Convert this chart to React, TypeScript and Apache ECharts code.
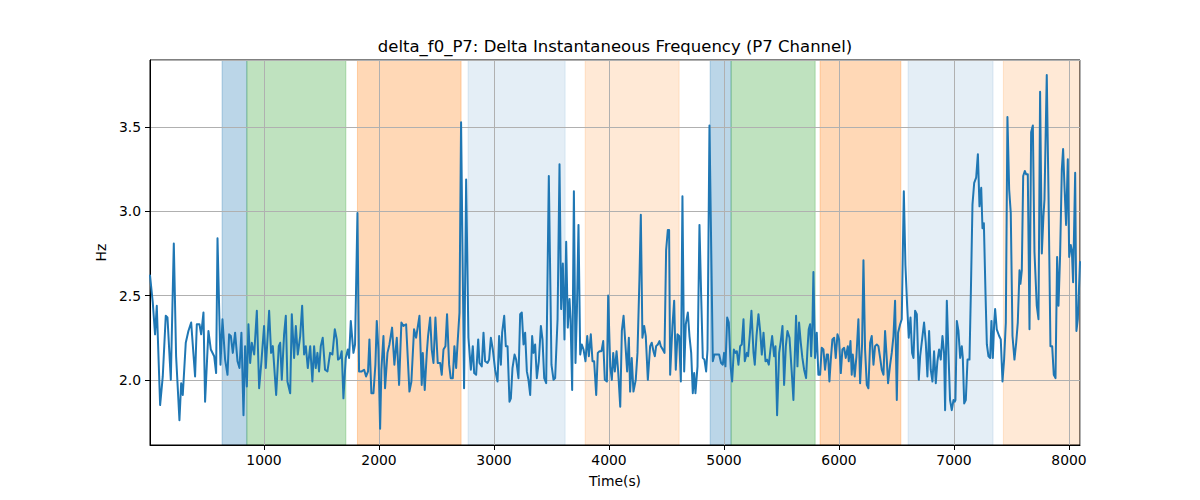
import React, { useEffect, useRef } from "react";
import * as echarts from "echarts";

// ---- data ----
const timeS = [
  9, 33, 53, 68, 97, 120, 146, 161, 190, 216, 236, 265, 280, 294, 320, 343, 367, 401, 416, 439,
  454, 474, 488, 517, 538, 567, 584, 596, 622, 639, 662, 683, 697, 712, 729, 749, 770, 787, 804, 822,
  836, 851, 865, 880, 894, 915, 938, 958, 978, 1001, 1016, 1045, 1062, 1077, 1106, 1129, 1141, 1155, 1175, 1190,
  1204, 1228, 1242, 1262, 1277, 1294, 1315, 1332, 1349, 1364, 1381, 1402,
  1421, 1436, 1450, 1465, 1479, 1494, 1511, 1531, 1552, 1575, 1595, 1616, 1633, 1644, 1662, 1676, 1691, 1711,
  1729, 1740, 1755, 1778, 1792, 1813, 1827, 1850, 1871, 1888, 1905, 1917, 1934, 1952, 1969, 1981, 1995, 2010,
  2021, 2039, 2053, 2074, 2091, 2114, 2134, 2155, 2175, 2195, 2213, 2236, 2265, 2282, 2305, 2323, 2334, 2352,
  2372, 2381, 2398, 2416, 2427, 2445, 2459, 2474, 2491, 2511, 2532, 2546, 2561, 2578, 2592, 2610, 2624, 2642,
  2656, 2671, 2682, 2700, 2714, 2740, 2758,
  2778, 2799, 2816, 2828, 2845, 2863, 2874, 2894, 2909, 2923, 2944, 2958, 2973, 2990, 3010, 3031, 3045, 3060,
  3071, 3089, 3103, 3118, 3135, 3147, 3161, 3179, 3193, 3213, 3228, 3242, 3257, 3271, 3286, 3300, 3315, 3332,
  3344, 3358, 3373, 3390, 3408, 3422, 3437, 3454, 3477, 3500, 3518, 3532, 3553, 3570, 3584, 3599, 3613, 3628,
  3642, 3657, 3666, 3680, 3695, 3709, 3721, 3735, 3750, 3764, 3779, 3796, 3811, 3825, 3842, 3857, 3871, 3889,
  3903, 3918, 3935, 3950, 3964, 3982, 3993, 4011, 4025, 4037, 4051, 4066, 4080, 4098, 4112, 4127, 4144, 4158, 4173,
  4184, 4198, 4213, 4233, 4248, 4265, 4277, 4291, 4306, 4320, 4338, 4358, 4372, 4387, 4399, 4410, 4425, 4439,
  4451, 4468, 4483, 4497, 4512, 4523, 4532, 4552, 4567, 4581, 4596, 4610, 4625, 4639, 4654, 4668, 4686, 4700,
  4715, 4729, 4741, 4752, 4770, 4787, 4801, 4816, 4830, 4845, 4857, 4874, 4903, 4917, 4938, 4958, 4975, 4990,
  5001, 5013, 5028, 5042, 5059, 5071, 5086, 5100, 5112, 5126, 5141, 5155, 5170, 5181, 5199, 5210, 5225, 5239,
  5257, 5268, 5283, 5300, 5315, 5329, 5344, 5361, 5375, 5390, 5404, 5419, 5436, 5448, 5462, 5480, 5494, 5509,
  5523, 5538, 5552, 5570,
  5589, 5604, 5627, 5639, 5653, 5668, 5682, 5697, 5714, 5726, 5737, 5749, 5758, 5769, 5778, 5792, 5807, 5821,
  5836, 5850, 5865, 5879, 5894, 5905, 5917, 5929, 5943, 5958, 5972, 5987, 6001, 6016, 6030, 6045, 6059, 6077,
  6085, 6100, 6111, 6120, 6137, 6152, 6169, 6184, 6201, 6213, 6227, 6242, 6256, 6271, 6285, 6300, 6314, 6329,
  6343, 6358, 6372, 6387, 6401, 6416, 6427, 6445, 6459, 6474, 6488, 6503, 6514, 6532, 6546, 6564, 6578, 6593,
  6607, 6622, 6636, 6648, 6662, 6677, 6694, 6706, 6723, 6740, 6755, 6769, 6784, 6798, 6813, 6827, 6842, 6856,
  6871, 6885, 6900, 6914, 6923, 6938, 6952, 6966,
  6981, 6996, 7007, 7013, 7025, 7039, 7054, 7068, 7077, 7089, 7103, 7118, 7135, 7147, 7161, 7176, 7193, 7208,
  7222, 7237, 7248, 7260, 7274, 7286, 7300, 7315, 7326, 7338, 7350,
  7358, 7372, 7393, 7407, 7422, 7436, 7451, 7465, 7480, 7494, 7509, 7526, 7541, 7555, 7570, 7578, 7590, 7602,
  7616, 7628, 7642, 7657, 7671, 7686, 7700, 7720, 7735, 7749, 7764, 7778, 7787, 7807, 7822, 7839, 7854, 7868,
  7883, 7897, 7909, 7923, 7938, 7949, 7961, 7975, 7990, 8002, 8016, 8025, 8036, 8054, 8065, 8077, 8096,
];

const hz = [
  2.62, 2.46, 2.27, 2.44, 1.85, 2.02, 2.38, 2.37, 2.0, 2.81, 2.14, 1.76, 1.98, 1.91, 2.22, 2.29, 2.34, 2.02, 2.33, 2.33,
  2.27, 2.4, 1.87, 2.29, 2.18, 2.14, 2.04, 2.84, 2.09, 2.36, 2.12, 2.03, 2.27, 2.26, 2.16, 2.28, 2.11, 2.07, 2.28, 1.79,
  2.2, 1.96, 2.33, 2.1, 2.22, 2.15, 2.41, 1.95, 2.11, 2.32, 2.07, 2.41, 2.16, 2.2, 1.91, 2.2, 2.22, 2.0, 2.27, 2.38,
  1.99, 1.92, 2.39, 2.13, 2.32, 2.15, 2.26, 2.44, 2.15, 2.2, 2.07, 2.2,
  1.99, 2.2, 2.07, 2.16, 2.05, 2.2, 2.25, 2.06, 2.05, 2.16, 2.15, 2.3, 2.24, 2.12, 2.13, 2.17, 1.89, 2.13,
  2.18, 2.13, 2.35, 2.16, 2.21, 2.99, 2.05, 2.05, 2.06, 2.02, 2.05, 2.24, 1.92, 1.92, 2.09, 2.35, 2.18, 1.71,
  2.06, 2.26, 1.95, 2.16, 2.21, 2.31, 2.09, 2.25, 1.97, 2.34, 2.32, 2.33, 1.93, 1.99, 2.3, 2.25, 2.3, 2.38,
  1.97, 2.16, 1.94, 2.16, 2.26, 2.37, 2.18, 2.1, 2.37, 2.1, 2.1, 2.03, 2.18, 2.2, 2.39, 2.09, 2.01, 2.01,
  2.2, 2.07, 2.2, 2.4, 3.53, 1.95, 3.19,
  2.25, 2.06, 2.2, 2.04, 2.03, 2.24, 2.1, 2.08, 2.28, 2.11, 2.1, 2.12, 2.25, 2.18, 2.06, 1.99, 2.26, 2.09,
  2.28, 2.38, 2.2, 2.2, 1.87, 1.89, 2.07, 2.15, 2.12, 2.01, 2.39, 2.4, 2.21, 2.28, 2.05, 2.0, 1.91, 2.26,
  2.16, 2.21, 2.01, 2.11, 2.32, 2.24, 2.01, 1.98, 3.21, 2.09, 2.0, 2.01, 2.36, 3.28, 2.42, 2.69, 2.24, 2.82,
  2.31, 2.48, 2.36, 1.94, 3.12, 2.1, 2.4, 2.92, 2.15, 2.21, 2.18, 2.11, 2.26, 2.14, 2.27, 2.11, 2.11, 1.91,
  2.16, 2.17, 2.17, 2.23, 2.0, 1.99, 2.5, 2.08, 2.0, 2.16, 2.05, 2.17, 2.05, 1.84, 2.29, 2.38, 2.2, 2.05, 2.25,
  1.93, 2.13, 1.93, 2.0, 2.16, 2.6, 2.98, 2.25, 2.32, 2.26, 2.0, 2.2, 2.22, 2.17, 2.14, 2.2, 2.21, 2.23,
  2.2, 2.18, 2.16, 2.77, 2.89, 2.89, 2.03, 2.32, 2.47, 2.06, 2.27, 2.26, 1.99, 3.09, 2.05, 2.33, 2.4, 2.26,
  2.16, 1.92, 2.04, 1.92, 2.08, 2.92, 2.52, 2.13, 2.12, 2.05, 2.18, 3.51, 2.11, 2.15, 2.15, 2.15, 2.1, 2.09,
  2.16, 2.08, 2.37, 2.34, 2.07, 1.99, 2.18, 2.16, 2.17, 2.09, 2.2, 2.21, 2.36, 2.11, 2.16, 2.14, 2.27, 2.41,
  2.16, 2.09, 2.26, 2.39, 2.29, 2.15, 2.28, 2.11, 2.12, 2.09, 2.18, 2.26, 2.14, 2.2, 1.79, 2.16, 2.23, 2.32,
  1.97, 2.2, 2.29, 2.25,
  2.05, 1.88, 2.38, 2.08, 2.34, 2.22, 2.13, 2.06, 2.01, 2.18, 2.3, 2.33, 2.14, 2.32, 2.64, 2.13, 2.28, 2.03,
  2.03, 2.19, 2.18, 2.06, 2.15, 2.15, 1.99, 2.12, 2.24, 2.25, 2.13, 2.27, 2.24, 2.04, 2.18, 2.19, 2.13, 2.2,
  2.11, 2.23, 2.03, 2.15, 2.02, 2.14, 2.36, 1.98, 2.21, 2.71, 2.18, 1.97, 1.95, 2.22, 2.26, 2.09, 2.2, 2.21,
  2.2, 2.13, 2.06, 2.03, 2.29, 2.12, 1.98, 2.09, 2.16, 2.26, 2.47, 1.88, 2.28, 2.33, 2.36, 3.12, 2.68, 2.44,
  2.25, 2.37, 2.16, 2.13, 2.41, 2.39, 2.0, 2.14, 2.24, 2.34, 2.22, 2.02, 2.29, 2.06, 1.99, 2.17, 1.98, 2.11,
  2.18, 2.12, 2.26, 2.16, 1.82, 2.47, 2.16, 1.88,
  1.82, 1.88, 1.87, 1.88, 2.35, 2.29, 2.13, 2.2, 2.13, 1.86, 1.88, 2.12, 2.12, 2.52, 3.04, 3.17, 3.2, 3.34,
  3.03, 3.14, 2.9, 2.93, 2.52, 2.21, 2.14, 2.13, 2.35, 2.13, 2.34,
  2.42, 2.3, 2.26, 2.24, 1.99, 2.12, 2.34, 3.56, 3.13, 2.99, 2.26, 2.12, 2.22, 2.34, 2.65, 2.57, 2.65, 3.21,
  3.24, 3.22, 3.22, 2.3, 3.47, 3.51, 2.76, 2.44, 2.36, 3.71, 2.75, 2.97, 3.07, 3.81, 3.11, 2.2, 2.2, 2.03,
  2.01, 2.73, 2.44, 2.74, 3.25, 3.37, 3.15, 2.92, 3.31, 2.73, 2.8, 2.77, 2.58, 3.23, 2.29, 2.36, 2.7,
];

// shaded intervals (axvspan)
const spanStarts = [636, 851, 1813, 2775, 3793, 4880, 5062, 5836, 6601, 7430];
const spanEnds = [851, 1712, 2714, 3619, 4610, 5062, 5793, 6538, 7340, 8096];

const X_MIN = 9;
const X_MAX = 8096;
const Y_MIN = 1.613;
const Y_MAX = 3.899;

// styles
const spanColors = [
  "rgba(31,119,180,0.3)",
  "rgba(44,160,44,0.3)",
  "rgba(255,127,14,0.3)",
  "rgba(31,119,180,0.12)",
  "rgba(255,127,14,0.17)",
  "rgba(31,119,180,0.3)",
  "rgba(44,160,44,0.3)",
  "rgba(255,127,14,0.3)",
  "rgba(31,119,180,0.12)",
  "rgba(255,127,14,0.17)",
];
const FONT = "DejaVu Sans";

export default function App() {
  const ref = useRef<HTMLDivElement>(null);

  useEffect(() => {
    if (!ref.current) return;
    const chart = echarts.init(ref.current, null, { renderer: "svg" });
    const lineData = timeS.map((t, i) => [t, hz[i]]);
    const spanData = spanStarts.map((s, i) => [s, spanEnds[i], 2.5]);

    chart.setOption({
      animation: false,
      backgroundColor: "#ffffff",
      textStyle: { fontFamily: FONT },
      grid: {
        left: 150,
        right: 120,
        top: 60,
        bottom: 55,
        show: true,
        z: 2,
        borderColor: "#000000",
        borderWidth: 1,
        backgroundColor: "transparent",
      },
      graphic: [
        {
          type: "text",
          x: 615,
          y: 46,
          z: 10,
          style: {
            text: "delta_f0_P7: Delta Instantaneous Frequency (P7 Channel)",
            fontFamily: FONT,
            fontSize: 16.5,
            fill: "#000000",
            textAlign: "center",
            textVerticalAlign: "middle",
          },
        },
      ],
      xAxis: {
        type: "value",
        min: X_MIN,
        max: X_MAX,
        splitNumber: 8,
        z: 2,
        name: "Time(s)",
        nameLocation: "middle",
        nameGap: 29,
        nameTextStyle: { fontFamily: FONT, fontSize: 13.9, color: "#000000" },
        axisLine: { show: true, onZero: false, lineStyle: { color: "#000000", width: 1 } },
        axisTick: { show: true, length: 5, lineStyle: { color: "#000000", width: 1 } },
        axisLabel: {
          showMinLabel: false,
          showMaxLabel: false,
          margin: 8,
          fontFamily: FONT,
          fontSize: 13.9,
          color: "#000000",
          formatter: (v: number) => String(Math.round(v)),
        },
        splitLine: { show: true, lineStyle: { color: "#b0b0b0", width: 1 } },
      },
      yAxis: {
        type: "value",
        min: Y_MIN,
        max: Y_MAX,
        splitNumber: 5,
        z: 2,
        name: "Hz",
        nameLocation: "middle",
        nameGap: 35,
        nameRotate: 90,
        nameTextStyle: { fontFamily: FONT, fontSize: 13.9, color: "#000000" },
        axisLine: { show: true, onZero: false, lineStyle: { color: "#000000", width: 1 } },
        axisTick: { show: true, length: 5, lineStyle: { color: "#000000", width: 1 } },
        axisLabel: {
          showMinLabel: false,
          showMaxLabel: false,
          margin: 9,
          fontFamily: FONT,
          fontSize: 13.9,
          color: "#000000",
          formatter: (v: number) => v.toFixed(1),
        },
        splitLine: { show: true, lineStyle: { color: "#b0b0b0", width: 1 } },
      },
      series: [
        {
          type: "custom",
          z: 1,
          silent: true,
          clip: true,
          data: spanData,
          encode: { x: [0, 1], y: 2 },
          renderItem: (params: any, api: any) => {
            const x0 = api.coord([api.value(0), Y_MIN])[0];
            const x1 = api.coord([api.value(1), Y_MIN])[0];
            const cs = params.coordSys;
            const c = spanColors[params.dataIndex % spanColors.length];
            return {
              type: "rect",
              shape: { x: x0, y: cs.y, width: x1 - x0, height: cs.height },
              style: { fill: c, stroke: c, lineWidth: 1 },
            };
          },
        },
        {
          type: "line",
          z: 3,
          data: lineData,
          showSymbol: false,
          symbol: "none",
          clip: true,
          lineStyle: { color: "#1f77b4", width: 2, join: "round", cap: "round" },
        },
      ],
    });

    return () => chart.dispose();
  }, []);

  return (
    <div
      ref={ref}
      style={{ position: "absolute", left: 0, top: 0, width: 1200, height: 500, background: "#ffffff" }}
    />
  );
}
